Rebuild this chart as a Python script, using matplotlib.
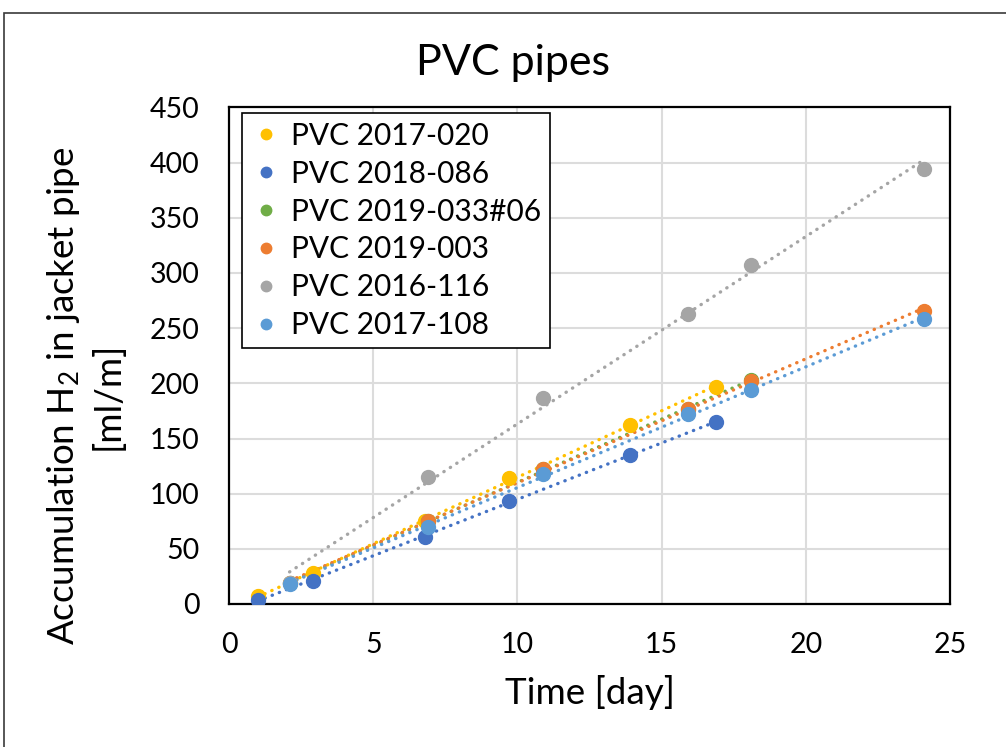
import numpy as np
import matplotlib
matplotlib.use("Agg")
import matplotlib.pyplot as plt
from matplotlib.patches import Rectangle

plt.rcParams['font.family'] = ['Lato', 'DejaVu Sans']
plt.rcParams['mathtext.fontset'] = 'custom'
plt.rcParams['mathtext.rm'] = 'Lato'
plt.rcParams['mathtext.it'] = 'Lato:italic'

# ---- data ----
labels = ["PVC 2017-020", "PVC 2018-086", "PVC 2019-033#06",
          "PVC 2019-003", "PVC 2016-116", "PVC 2017-108"]
colors = ["#FFC000", "#4472C4", "#70AD47", "#ED7D31", "#A5A5A5", "#5B9BD5"]

x_2017_020 = [1.0, 2.9, 6.8, 9.7, 13.9, 16.9]
y_2017_020 = [7, 28, 75, 114, 162, 197]

x_2018_086 = [1.0, 2.9, 6.8, 9.7, 13.9, 16.9]
y_2018_086 = [4, 21, 61, 93, 135, 165]

x_2019_033 = [2.1, 6.9, 10.9, 15.9, 18.1]
y_2019_033 = [19, 75, 122, 177, 203]

x_2019_003 = [2.1, 6.9, 10.9, 15.9, 18.1, 24.1]
y_2019_003 = [19, 75, 122, 177, 202, 266]

x_2016_116 = [2.1, 6.9, 10.9, 15.9, 18.1, 24.1]
y_2016_116 = [19, 115, 187, 263, 307, 394]

x_2017_108 = [2.1, 6.9, 10.9, 15.9, 18.1, 24.1]
y_2017_108 = [18, 70, 118, 172, 194, 258]

xs = [x_2017_020, x_2018_086, x_2019_033, x_2019_003, x_2016_116, x_2017_108]
ys = [y_2017_020, y_2018_086, y_2019_033, y_2019_003, y_2016_116, y_2017_108]

x_ticks = [0, 5, 10, 15, 20, 25]
y_ticks = list(range(0, 451, 50))

# ---- figure ----
fig = plt.figure(figsize=(10.06, 7.47), dpi=100)
ax = fig.add_axes([229/1006, 1-604/747, 721/1006, 496.5/747])

# outer chart border
fig.patches.append(Rectangle((4/1006, -0.01), 1.0, 1-13/747+0.01,
                             transform=fig.transFigure, fill=False,
                             ec='#3a3a3a', lw=1.2))

ax.set_xlim(0, 25)
ax.set_ylim(0, 450)
ax.set_xticks(x_ticks)
ax.set_yticks(y_ticks)
ax.grid(True, color='#dcdcdc', lw=1.5)
ax.set_axisbelow(True)
for s in ax.spines.values():
    s.set_color('black')
    s.set_linewidth(1.6)
ax.tick_params(length=0, labelsize=20.5, colors='black')
ax.tick_params(axis='y', pad=21)
ax.tick_params(axis='x', pad=20)

handles = []
for x, y, c, lab, i in zip(xs, ys, colors, labels, range(6)):
    x = np.array(x); y = np.array(y)
    k, b = np.polyfit(x, y, 1)
    xx = np.array([x.min(), x.max()])
    ax.plot(xx, k*xx + b, linestyle=(0, (0.1, 2.2)), lw=2.4, color=c,
            dash_capstyle='round', zorder=2 + i*0.1)
for x, y, c, lab, i in zip(xs, ys, colors, labels, range(6)):
    h, = ax.plot(x, y, 'o', ms=10, color=c, mec=c, label=lab, zorder=3 + i*0.1)
    handles.append(h)

leg = ax.legend(handles=handles, loc='upper left', bbox_to_anchor=(0.018, 0.989),
                borderaxespad=0, fontsize=21.5, frameon=True, fancybox=False,
                edgecolor='black', framealpha=1, handlelength=1.0,
                handletextpad=0.35, labelspacing=0.33, borderpad=0.3)
leg.get_frame().set_linewidth(1.2)
for h in leg.legend_handles:
    h.set_markersize(7.5)

fig.suptitle("PVC pipes", fontsize=31, x=513/1006, y=1-63/747, va='center')

ax.set_xlabel("Time [day]", fontsize=26.5)
ax.xaxis.set_label_coords((590-229)/721, (604-693)/496.5)
ax.xaxis.label.set_va('center')

ax.set_ylabel("Accumulation H$_2$ in jacket pipe\n[ml/m]", fontsize=26.5,
              linespacing=1.3, ha='center')
ax.yaxis.set_label_coords((85-229)/721, (604-396)/496.5)
ax.yaxis.label.set_va('center')

fig.savefig("out.png", dpi=100)
